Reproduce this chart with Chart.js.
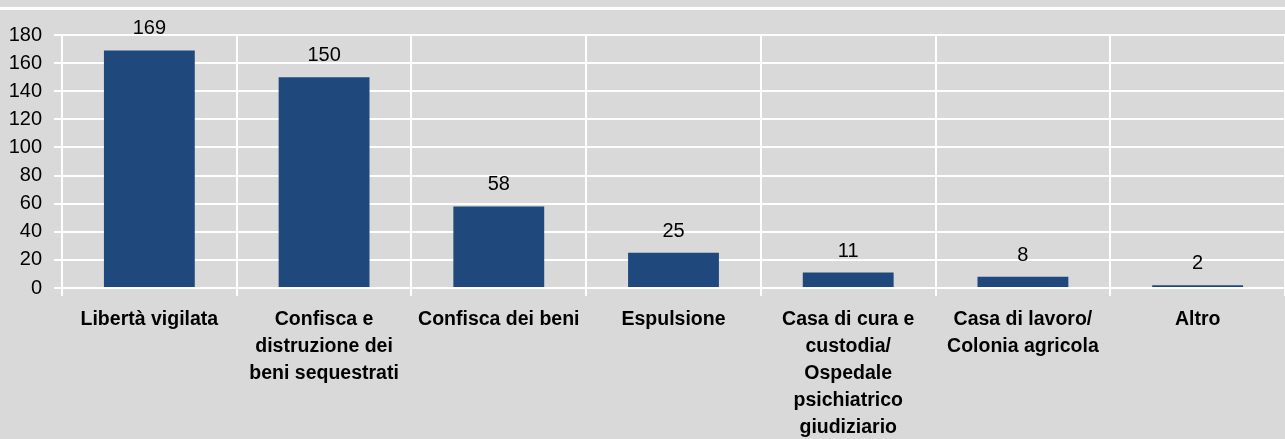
<!DOCTYPE html>
<html>
<head>
<meta charset="utf-8">
<script src="https://cdn.jsdelivr.net/npm/chart.js@4"></script>
<style>
  html, body { margin: 0; padding: 0; background: #d9d9d9; }
  #wrap { position: relative; width: 1285px; height: 439px; }
  #topline { position: absolute; left: 0; top: 7px; width: 1285px; height: 3px; background: #fff; }
  canvas { position: absolute; left: 0; top: 0; }
</style>
</head>
<body>
<div id="wrap">
  <div id="topline"></div>
  <canvas id="misureChart" width="1285" height="439"></canvas>
</div>
<script>
const categories = [
    'Libertà vigilata',
    ['Confisca e', 'distruzione dei', 'beni sequestrati'],
    'Confisca dei beni',
    'Espulsione',
    ['Casa di cura e', 'custodia/', 'Ospedale', 'psichiatrico', 'giudiziario'],
    ['Casa di lavoro/', 'Colonia agricola'],
    'Altro'
];
const values = [169, 150, 58, 25, 11, 8, 2];
const yTicks = [0, 20, 40, 60, 80, 100, 120, 140, 160, 180];

const FONT = "'Liberation Sans', Arial, sans-serif";

// value labels above the bars
const valueLabels = {
    id: 'valueLabels',
    afterDatasetsDraw(chart) {
        const ctx = chart.ctx;
        const meta = chart.getDatasetMeta(0);
        ctx.save();
        ctx.font = '20px ' + FONT;
        ctx.fillStyle = '#000';
        ctx.textAlign = 'center';
        ctx.textBaseline = 'alphabetic';
        meta.data.forEach(function(bar, i) {
            ctx.fillText(String(values[i]), bar.x, bar.y - 16);
        });
        ctx.restore();
    }
};

const ctx = document.getElementById('misureChart').getContext('2d');
new Chart(ctx, {
    type: 'bar',
    data: {
        labels: categories,
        datasets: [{
            data: values,
            backgroundColor: '#1F497D',
            borderWidth: 0,
            barPercentage: 0.52,
            categoryPercentage: 1.0
        }]
    },
    options: {
        responsive: false,
        animation: false,
        layout: { padding: { top: 35, left: 0, right: 0, bottom: 0 } },
        plugins: {
            legend: { display: false },
            tooltip: { enabled: false }
        },
        scales: {
            x: {
                grid: {
                    offset: true,
                    color: '#ffffff',
                    lineWidth: 2,
                    tickLength: 8
                },
                border: { color: '#ffffff', width: 2 },
                ticks: {
                    color: '#000',
                    maxRotation: 0,
                    autoSkip: false,
                    padding: 10,
                    font: { family: FONT, size: 19.5, weight: 'bold', lineHeight: 1.385 }
                },
                afterFit(scale) { scale.height = 151; }
            },
            y: {
                min: 0,
                max: 180,
                afterBuildTicks(scale) {
                    scale.ticks = yTicks.map(v => ({ value: v }));
                },
                grid: {
                    color: '#ffffff',
                    lineWidth: 2,
                    tickLength: 8
                },
                border: { color: '#ffffff', width: 2 },
                ticks: {
                    color: '#000',
                    autoSkip: false,
                    padding: 12,
                    font: { family: FONT, size: 20 }
                },
                afterFit(scale) { scale.width = 62; }
            }
        }
    },
    plugins: [valueLabels]
});
</script>
</body>
</html>
